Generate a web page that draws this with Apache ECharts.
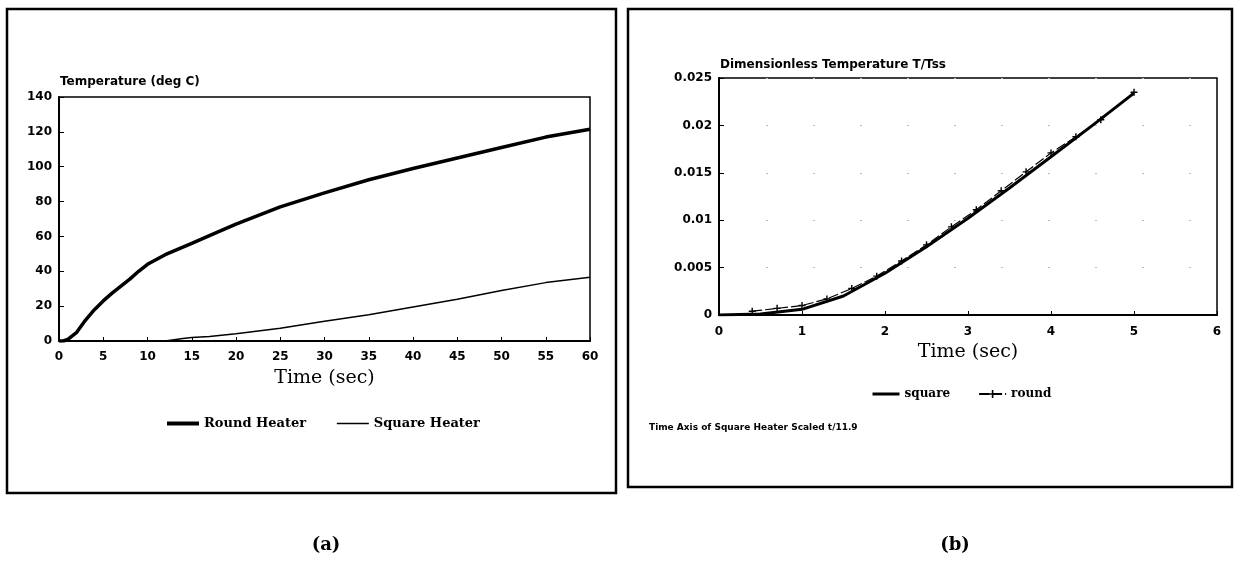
<!DOCTYPE html>
<html>
<head>
<meta charset="utf-8">
<script src="https://cdn.jsdelivr.net/npm/echarts@6/dist/echarts.min.js"></script>
<style>html,body{margin:0;padding:0;background:#fff}#c{width:1241px;height:565px}</style>
</head>
<body>
<div id="c"></div>
<script>
// ---- Panel (a): Temperature vs time ----
const roundHeaterT    = [0, 0.5, 1, 2, 3, 4, 5, 6, 7, 8, 9, 10, 12, 15, 17, 20, 25, 30, 35, 40, 45, 50, 55, 60];
const roundHeaterTemp = [0, 0, 1, 5, 12, 18, 23, 27.5, 31.5, 35.5, 40, 44, 49.5, 56, 60.5, 67, 77, 85, 92.5, 99, 105, 111, 117, 121.5];
const squareHeaterT    = [0, 12, 14, 15, 17, 20, 25, 30, 35, 40, 45, 50, 55, 60];
const squareHeaterTemp = [0, 0, 1.5, 2, 2.6, 4.2, 7.3, 11.3, 15, 19.5, 24, 29, 33.5, 36.6];

// ---- Panel (b): Dimensionless temperature vs time ----
const squareT  = [0, 0.5, 1, 1.5, 2, 2.5, 3, 3.5, 4, 4.5, 5];
const squareV  = [0, 0.0001, 0.0006, 0.002, 0.0044, 0.0072, 0.0102, 0.0134, 0.0167, 0.0200, 0.0234];
const roundT   = [0.4, 0.7, 1, 1.3, 1.6, 1.9, 2.2, 2.5, 2.8, 3.1, 3.4, 3.7, 4, 4.3, 4.6, 5];
const roundV   = [0.0004, 0.0007, 0.001, 0.0017, 0.0028, 0.0041, 0.0057, 0.0074, 0.0093, 0.0111, 0.0131, 0.0151, 0.0171, 0.0188, 0.0206, 0.0235];

const pairs = (xs, ys) => xs.map((x, i) => [x, ys[i]]);

const tickFont = {fontFamily: 'DejaVu Sans', fontWeight: 'bold', fontSize: 12, color: '#000'};
const axisNameFont = {fontFamily: 'DejaVu Serif', fontSize: 19, color: '#000'};
const plusPath = 'path://M4,0H6V4H10V6H6V10H4V6H0V4H4Z';

const chart = echarts.init(document.getElementById('c'), null, {renderer: 'canvas'});
chart.setOption({
  animation: false,
  backgroundColor: '#fff',
  grid: [
    {left: 59, top: 97, width: 531, height: 244, show: true, borderColor: '#000', borderWidth: 1.5},
    {left: 719, top: 78, width: 498, height: 237, show: true, borderColor: '#000', borderWidth: 1.5}
  ],
  xAxis: [
    {gridIndex: 0, type: 'value', min: 0, max: 60, interval: 5,
     name: 'Time (sec)', nameLocation: 'middle', nameGap: 28, nameTextStyle: axisNameFont,
     axisLine: {lineStyle: {color: '#000', width: 2}}, axisTick: {inside: true, length: 4, lineStyle: {color: '#000'}},
     axisLabel: Object.assign({margin: 10}, tickFont), splitLine: {show: false}},
    {gridIndex: 1, type: 'value', min: 0, max: 6, interval: 1,
     name: 'Time (sec)', nameLocation: 'middle', nameGap: 28, nameTextStyle: axisNameFont,
     axisLine: {lineStyle: {color: '#000', width: 2}}, axisTick: {inside: true, length: 4, lineStyle: {color: '#000'}},
     axisLabel: Object.assign({margin: 11}, tickFont), splitLine: {show: false}}
  ],
  yAxis: [
    {gridIndex: 0, type: 'value', min: 0, max: 140, interval: 20,
     axisLine: {lineStyle: {color: '#000', width: 2}}, axisTick: {inside: true, length: 5, lineStyle: {color: '#000'}},
     axisLabel: Object.assign({margin: 7}, tickFont), splitLine: {show: false}},
    {gridIndex: 1, type: 'value', min: 0, max: 0.025, interval: 0.005,
     axisLine: {lineStyle: {color: '#000', width: 2}}, axisTick: {inside: true, length: 5, lineStyle: {color: '#000'}},
     axisLabel: Object.assign({margin: 7}, tickFont),
     splitLine: {show: true, lineStyle: {color: '#bbb', width: 1, type: [2, 45]}}}
  ],
  legend: [
    {left: 160, top: 412, itemWidth: 32, itemHeight: 12, itemGap: 30,
     data: [{name: 'Round Heater', itemStyle: {opacity: 0}, lineStyle: {width: 4}},
            {name: 'Square Heater', itemStyle: {opacity: 0}, lineStyle: {width: 1.5}}],
     textStyle: {fontFamily: 'DejaVu Serif', fontWeight: 'bold', fontSize: 13, color: '#000'}},
    {left: 866, top: 383, itemWidth: 27, itemHeight: 10, itemGap: 28,
     data: [{name: 'square', itemStyle: {opacity: 0}, lineStyle: {width: 3}}, 'round'],
     textStyle: {fontFamily: 'DejaVu Serif', fontWeight: 'bold', fontSize: 12, color: '#000'}}
  ],
  series: [
    {name: 'Round Heater', type: 'line', xAxisIndex: 0, yAxisIndex: 0, data: pairs(roundHeaterT, roundHeaterTemp),
     smooth: false, symbol: 'none', lineStyle: {color: '#000', width: 3.5, join: 'round'}, itemStyle: {color: '#000'}},
    {name: 'Square Heater', type: 'line', xAxisIndex: 0, yAxisIndex: 0, data: pairs(squareHeaterT, squareHeaterTemp),
     smooth: false, symbol: 'none', lineStyle: {color: '#000', width: 1.5}, itemStyle: {color: '#000'}},
    {name: 'square', type: 'line', xAxisIndex: 1, yAxisIndex: 1, data: pairs(squareT, squareV),
     smooth: false, symbol: 'none', lineStyle: {color: '#000', width: 3, join: 'round'}, itemStyle: {color: '#000'}},
    {name: 'round', type: 'line', xAxisIndex: 1, yAxisIndex: 1, data: pairs(roundT, roundV),
     smooth: false, symbol: plusPath, symbolSize: 7, showSymbol: true,
     lineStyle: {color: '#000', width: 1.2, type: [10, 3]}, itemStyle: {color: '#000'}}
  ],
  graphic: [
    {type: 'rect', shape: {x: 7, y: 9, width: 609, height: 484}, style: {fill: 'none', stroke: '#000', lineWidth: 2.5}, silent: true},
    {type: 'rect', shape: {x: 628, y: 9, width: 604, height: 478}, style: {fill: 'none', stroke: '#000', lineWidth: 2.5}, silent: true},
    {type: 'text', left: 60, top: 76, style: {text: 'Temperature (deg C)', font: 'bold 12px "DejaVu Sans"', fill: '#000'}},
    {type: 'text', left: 720, top: 59, style: {text: 'Dimensionless Temperature T/Tss', font: 'bold 12px "DejaVu Sans"', fill: '#000'}},
    {type: 'text', left: 649, top: 423, style: {text: 'Time Axis of Square Heater Scaled t/11.9', font: 'bold 9px "DejaVu Sans"', fill: '#000'}},
    {type: 'text', x: 326, y: 545, style: {text: '(a)', font: 'bold 18px "DejaVu Serif"', fill: '#000', align: 'center', verticalAlign: 'middle'}},
    {type: 'text', x: 955, y: 545, style: {text: '(b)', font: 'bold 18px "DejaVu Serif"', fill: '#000', align: 'center', verticalAlign: 'middle'}}
  ]
});
</script>
</body>
</html>
